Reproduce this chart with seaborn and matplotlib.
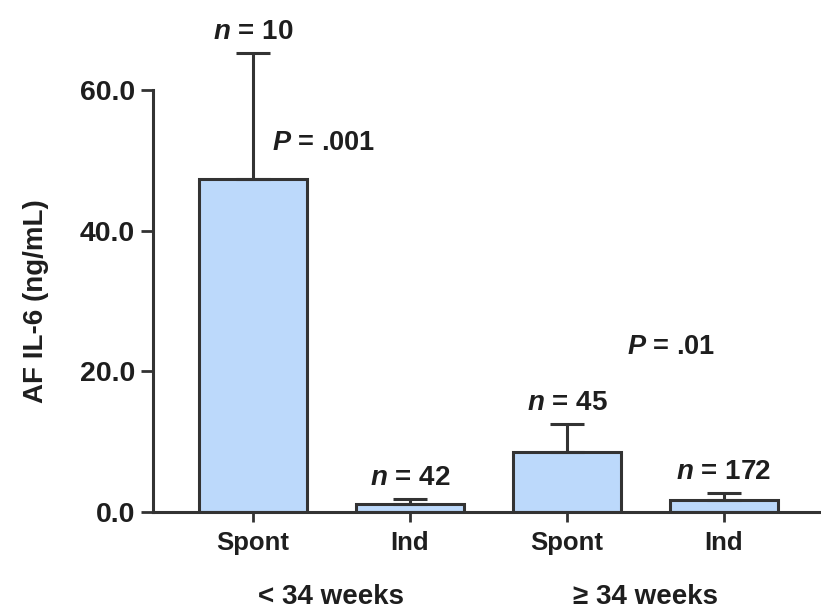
import matplotlib
matplotlib.use("Agg")
import matplotlib.pyplot as plt
import seaborn as sns
import pandas as pd

# Amniotic fluid IL-6 by delivery type and gestational age
categories = ["Spont", "Ind", "Spont", "Ind"]
groups = ["< 34 weeks", "< 34 weeks", "\u2265 34 weeks", "\u2265 34 weeks"]
means = [47.3, 1.1, 8.5, 1.7]
sem_upper = [18.0, 0.7, 4.0, 1.0]
n_labels = ["10", "42", "45", "172"]
p_labels = ["P = .001", "P = .01"]
yticks = [0.0, 20.0, 40.0, 60.0]

sns.set_theme(style="white")
plt.rcParams["font.family"] = ["Liberation Sans", "DejaVu Sans"]
plt.rcParams["mathtext.fontset"] = "custom"
plt.rcParams["mathtext.it"] = "Liberation Sans:bold:italic"
plt.rcParams["mathtext.rm"] = "Liberation Sans:bold"

df = pd.DataFrame({"pos": [0, 1, 2, 3], "mean": means})

txt = "#1e1e1e"
edge = "#333333"

fig = plt.figure(figsize=(8.21, 6.13), dpi=100)
ax = fig.add_axes([153 / 821, 101 / 613, 668 / 821, 422 / 613])

sns.barplot(data=df, x="pos", y="mean", ax=ax, color="#bcd9fb",
            saturation=1, width=0.69, edgecolor=edge, linewidth=2.2,
            native_scale=True, errorbar=None)

ax.errorbar(df["pos"], df["mean"], yerr=[[0] * 4, sem_upper], fmt="none",
            ecolor=edge, elinewidth=2.2, capsize=12, capthick=2.2,
            clip_on=False, zorder=1)

ax.set_xlim(-0.637, 3.618)
ax.set_ylim(0, 60)
ax.set_yticks(yticks)
ax.set_yticklabels([f"{v:.1f}" for v in yticks], fontsize=20.5, fontweight="bold",
                   color=txt)
ax.set_xticks(df["pos"])
ax.set_xticklabels(categories, fontsize=18.5, fontweight="bold", color=txt)
ax.tick_params(axis="y", direction="out", length=9, width=2, color=edge, left=True, pad=4)
ax.tick_params(axis="x", direction="out", length=7, width=2, color=edge, bottom=True, pad=7)
ax.set_xlabel("")
ax.set_ylabel("AF IL-6 (ng/mL)", fontsize=20, fontweight="bold", color=txt,
              labelpad=22)

for side in ["top", "right"]:
    ax.spines[side].set_visible(False)
for side in ["left", "bottom"]:
    ax.spines[side].set_color(edge)
    ax.spines[side].set_linewidth(2.2)

# sample sizes above the error bars
for x, m, e, n in zip(df["pos"], means, sem_upper, n_labels):
    ax.text(x, m + e + 3.0, f"$n$ = {n}", ha="center", va="center",
            fontsize=20, fontweight="bold", color=txt, clip_on=False)

# group labels
for x, g in [(0.5, groups[0]), (2.5, groups[2])]:
    ax.text(x, -12.1, g, ha="center", va="center", fontsize=20,
            fontweight="bold", color=txt, clip_on=False)

# P-values
ax.text(0.12, 52.45, "$P$ = .001", ha="left", va="center", fontsize=19.5,
        fontweight="bold", color=txt)
ax.text(2.38, 23.45, "$P$ = .01", ha="left", va="center", fontsize=19.5,
        fontweight="bold", color=txt)

fig.savefig("out.png", dpi=100)
